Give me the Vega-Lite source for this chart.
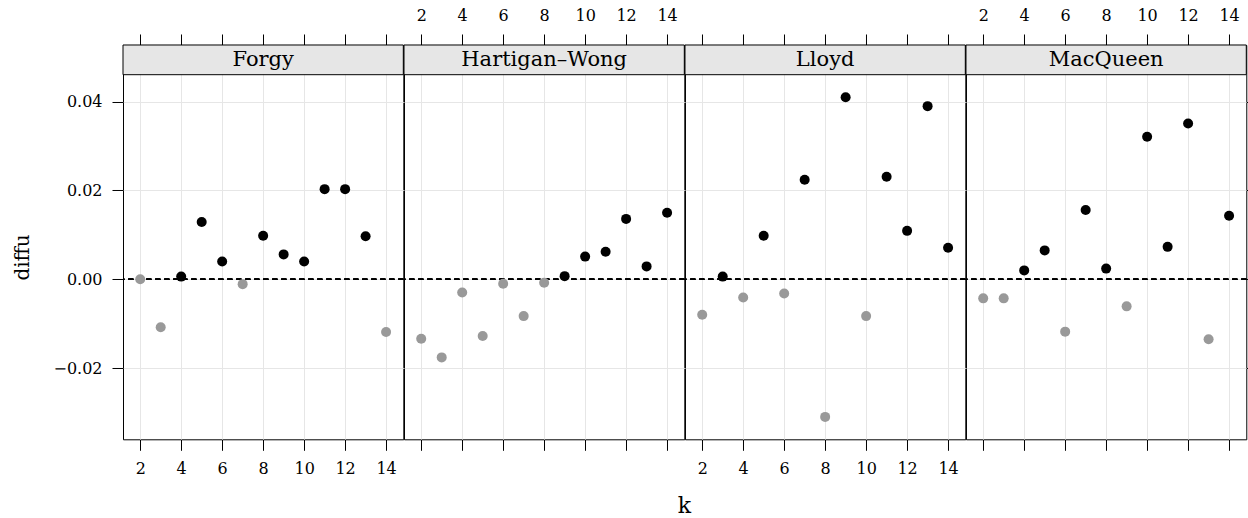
{
  "$schema": "https://vega.github.io/schema/vega-lite/v6.json",
  "padding": {"left": 12, "top": 7, "right": 0, "bottom": 4},
  "datasets": {
    "diffs": [
      {"method": "Forgy", "k": 2, "diffu": 0.0},
      {"method": "Forgy", "k": 3, "diffu": -0.0108},
      {"method": "Forgy", "k": 4, "diffu": 0.0006},
      {"method": "Forgy", "k": 5, "diffu": 0.0129},
      {"method": "Forgy", "k": 6, "diffu": 0.004},
      {"method": "Forgy", "k": 7, "diffu": -0.0011},
      {"method": "Forgy", "k": 8, "diffu": 0.0098},
      {"method": "Forgy", "k": 9, "diffu": 0.0056},
      {"method": "Forgy", "k": 10, "diffu": 0.004},
      {"method": "Forgy", "k": 11, "diffu": 0.0203},
      {"method": "Forgy", "k": 12, "diffu": 0.0203},
      {"method": "Forgy", "k": 13, "diffu": 0.0097},
      {"method": "Forgy", "k": 14, "diffu": -0.0119},
      {"method": "Hartigan–Wong", "k": 2, "diffu": -0.0134},
      {"method": "Hartigan–Wong", "k": 3, "diffu": -0.0176},
      {"method": "Hartigan–Wong", "k": 4, "diffu": -0.003},
      {"method": "Hartigan–Wong", "k": 5, "diffu": -0.0128},
      {"method": "Hartigan–Wong", "k": 6, "diffu": -0.001},
      {"method": "Hartigan–Wong", "k": 7, "diffu": -0.0083},
      {"method": "Hartigan–Wong", "k": 8, "diffu": -0.0008},
      {"method": "Hartigan–Wong", "k": 9, "diffu": 0.0007},
      {"method": "Hartigan–Wong", "k": 10, "diffu": 0.0051},
      {"method": "Hartigan–Wong", "k": 11, "diffu": 0.0062},
      {"method": "Hartigan–Wong", "k": 12, "diffu": 0.0136},
      {"method": "Hartigan–Wong", "k": 13, "diffu": 0.0029},
      {"method": "Hartigan–Wong", "k": 14, "diffu": 0.015},
      {"method": "Lloyd", "k": 2, "diffu": -0.008},
      {"method": "Lloyd", "k": 3, "diffu": 0.0006},
      {"method": "Lloyd", "k": 4, "diffu": -0.0041},
      {"method": "Lloyd", "k": 5, "diffu": 0.0098},
      {"method": "Lloyd", "k": 6, "diffu": -0.0032},
      {"method": "Lloyd", "k": 7, "diffu": 0.0224},
      {"method": "Lloyd", "k": 8, "diffu": -0.031},
      {"method": "Lloyd", "k": 9, "diffu": 0.041},
      {"method": "Lloyd", "k": 10, "diffu": -0.0083},
      {"method": "Lloyd", "k": 11, "diffu": 0.0231},
      {"method": "Lloyd", "k": 12, "diffu": 0.0109},
      {"method": "Lloyd", "k": 13, "diffu": 0.039},
      {"method": "Lloyd", "k": 14, "diffu": 0.0071},
      {"method": "MacQueen", "k": 2, "diffu": -0.0043},
      {"method": "MacQueen", "k": 3, "diffu": -0.0043},
      {"method": "MacQueen", "k": 4, "diffu": 0.002},
      {"method": "MacQueen", "k": 5, "diffu": 0.0065},
      {"method": "MacQueen", "k": 6, "diffu": -0.0118},
      {"method": "MacQueen", "k": 7, "diffu": 0.0156},
      {"method": "MacQueen", "k": 8, "diffu": 0.0024},
      {"method": "MacQueen", "k": 9, "diffu": -0.0061},
      {"method": "MacQueen", "k": 10, "diffu": 0.0321},
      {"method": "MacQueen", "k": 11, "diffu": 0.0073},
      {"method": "MacQueen", "k": 12, "diffu": 0.0351},
      {"method": "MacQueen", "k": 13, "diffu": -0.0135},
      {"method": "MacQueen", "k": 14, "diffu": 0.0143}
    ]
  },
  "title": {"text": "k", "orient": "bottom", "anchor": "middle", "frame": "bounds", "dx": 49, "offset": 19, "fontSize": 22, "fontWeight": "normal", "font": "DejaVu Serif", "color": "black"},
  "spacing": 0,
  "bounds": "flush",
  "hconcat": [
    {
      "width": 280.3, "height": 394.3,
      "view": {"fill": "white", "stroke": "black"},
      "resolve": {"axis": {"x": "independent", "y": "independent"}},
      "layer": [
        {
          "data": {"name": "diffs"},
          "transform": [{"filter": "datum.method === 'Forgy'"}],
          "mark": {"type": "rule", "strokeDash": [5, 4], "color": "black", "strokeWidth": 1},
          "encoding": {"y": {"datum": 0, "type": "quantitative", "axis": null}}
        },
        {
          "data": {"name": "diffs"},
          "transform": [{"filter": "datum.method === 'Forgy'"}],
          "mark": {"type": "point", "filled": true, "size": 100, "opacity": 1},
          "encoding": {
            "x": {"field": "k", "type": "quantitative", "scale": {"domain": [1.16, 14.84], "nice": false, "zero": false},
                  "axis": {"orient": "bottom", "values": [2, 4, 6, 8, 10, 12, 14], "format": "d", "grid": true, "title": null}},
            "y": {"field": "diffu", "type": "quantitative", "scale": {"domain": [-0.03605, 0.05277], "nice": false, "zero": false},
                  "axis": {"orient": "left", "values": [-0.02, 0, 0.02, 0.04], "format": ".2f", "title": "diffu", "titlePadding": 20, "titleY": 212, "grid": true}},
            "color": {"condition": {"test": "datum.diffu > 0", "value": "black"}, "value": "#999999"}
          }
        },
        {
          "data": {"values": [{"method": "Forgy"}]},
          "mark": {"type": "rect", "fill": "#e6e6e6", "stroke": "black", "strokeWidth": 1},
          "encoding": {
            "x": {"datum": 1.16, "type": "quantitative", "axis": null}, "x2": {"datum": 14.84},
            "y": {"datum": 0.04608, "type": "quantitative", "axis": null}, "y2": {"datum": 0.05277}
          }
        },
        {
          "data": {"values": [{"method": "Forgy"}]},
          "mark": {"type": "text", "fontSize": 21, "baseline": "middle", "color": "black"},
          "encoding": {
            "x": {"datum": 8, "type": "quantitative", "axis": {"orient": "top", "values": [2, 4, 6, 8, 10, 12, 14], "labels": false, "grid": false, "title": null}},
            "y": {"datum": 0.04943, "type": "quantitative", "axis": null},
            "text": {"field": "method"}
          }
        }
      ]
    },
    {
      "width": 280.3, "height": 394.3,
      "view": {"fill": "white", "stroke": "black"},
      "resolve": {"axis": {"x": "independent", "y": "independent"}},
      "layer": [
        {
          "data": {"name": "diffs"},
          "transform": [{"filter": "datum.method === 'Hartigan–Wong'"}],
          "mark": {"type": "rule", "strokeDash": [5, 4], "color": "black", "strokeWidth": 1},
          "encoding": {"y": {"datum": 0, "type": "quantitative", "axis": null}}
        },
        {
          "data": {"name": "diffs"},
          "transform": [{"filter": "datum.method === 'Hartigan–Wong'"}],
          "mark": {"type": "point", "filled": true, "size": 100, "opacity": 1},
          "encoding": {
            "x": {"field": "k", "type": "quantitative", "scale": {"domain": [1.16, 14.84], "nice": false, "zero": false},
                  "axis": {"orient": "bottom", "values": [2, 4, 6, 8, 10, 12, 14], "labels": false, "grid": true, "title": null}},
            "y": {"field": "diffu", "type": "quantitative", "scale": {"domain": [-0.03605, 0.05277], "nice": false, "zero": false},
                  "axis": {"values": [-0.02, 0, 0.02, 0.04], "labels": false, "ticks": false, "title": null, "grid": true}},
            "color": {"condition": {"test": "datum.diffu > 0", "value": "black"}, "value": "#999999"}
          }
        },
        {
          "data": {"values": [{"method": "Hartigan–Wong"}]},
          "mark": {"type": "rect", "fill": "#e6e6e6", "stroke": "black", "strokeWidth": 1},
          "encoding": {
            "x": {"datum": 1.16, "type": "quantitative", "axis": null}, "x2": {"datum": 14.84},
            "y": {"datum": 0.04608, "type": "quantitative", "axis": null}, "y2": {"datum": 0.05277}
          }
        },
        {
          "data": {"values": [{"method": "Hartigan–Wong"}]},
          "mark": {"type": "text", "fontSize": 21, "baseline": "middle", "color": "black"},
          "encoding": {
            "x": {"datum": 8, "type": "quantitative", "axis": {"orient": "top", "values": [2, 4, 6, 8, 10, 12, 14], "format": "d", "grid": false, "title": null}},
            "y": {"datum": 0.04943, "type": "quantitative", "axis": null},
            "text": {"field": "method"}
          }
        }
      ]
    },
    {
      "width": 280.3, "height": 394.3,
      "view": {"fill": "white", "stroke": "black"},
      "resolve": {"axis": {"x": "independent", "y": "independent"}},
      "layer": [
        {
          "data": {"name": "diffs"},
          "transform": [{"filter": "datum.method === 'Lloyd'"}],
          "mark": {"type": "rule", "strokeDash": [5, 4], "color": "black", "strokeWidth": 1},
          "encoding": {"y": {"datum": 0, "type": "quantitative", "axis": null}}
        },
        {
          "data": {"name": "diffs"},
          "transform": [{"filter": "datum.method === 'Lloyd'"}],
          "mark": {"type": "point", "filled": true, "size": 100, "opacity": 1},
          "encoding": {
            "x": {"field": "k", "type": "quantitative", "scale": {"domain": [1.16, 14.84], "nice": false, "zero": false},
                  "axis": {"orient": "bottom", "values": [2, 4, 6, 8, 10, 12, 14], "format": "d", "grid": true, "title": null}},
            "y": {"field": "diffu", "type": "quantitative", "scale": {"domain": [-0.03605, 0.05277], "nice": false, "zero": false},
                  "axis": {"values": [-0.02, 0, 0.02, 0.04], "labels": false, "ticks": false, "title": null, "grid": true}},
            "color": {"condition": {"test": "datum.diffu > 0", "value": "black"}, "value": "#999999"}
          }
        },
        {
          "data": {"values": [{"method": "Lloyd"}]},
          "mark": {"type": "rect", "fill": "#e6e6e6", "stroke": "black", "strokeWidth": 1},
          "encoding": {
            "x": {"datum": 1.16, "type": "quantitative", "axis": null}, "x2": {"datum": 14.84},
            "y": {"datum": 0.04608, "type": "quantitative", "axis": null}, "y2": {"datum": 0.05277}
          }
        },
        {
          "data": {"values": [{"method": "Lloyd"}]},
          "mark": {"type": "text", "fontSize": 21, "baseline": "middle", "color": "black"},
          "encoding": {
            "x": {"datum": 8, "type": "quantitative", "axis": {"orient": "top", "values": [2, 4, 6, 8, 10, 12, 14], "labels": false, "grid": false, "title": null}},
            "y": {"datum": 0.04943, "type": "quantitative", "axis": null},
            "text": {"field": "method"}
          }
        }
      ]
    },
    {
      "width": 280.3, "height": 394.3,
      "view": {"fill": "white", "stroke": "black"},
      "resolve": {"axis": {"x": "independent", "y": "independent"}},
      "layer": [
        {
          "data": {"name": "diffs"},
          "transform": [{"filter": "datum.method === 'MacQueen'"}],
          "mark": {"type": "rule", "strokeDash": [5, 4], "color": "black", "strokeWidth": 1},
          "encoding": {"y": {"datum": 0, "type": "quantitative", "axis": null}}
        },
        {
          "data": {"name": "diffs"},
          "transform": [{"filter": "datum.method === 'MacQueen'"}],
          "mark": {"type": "point", "filled": true, "size": 100, "opacity": 1},
          "encoding": {
            "x": {"field": "k", "type": "quantitative", "scale": {"domain": [1.16, 14.84], "nice": false, "zero": false},
                  "axis": {"orient": "bottom", "values": [2, 4, 6, 8, 10, 12, 14], "labels": false, "grid": true, "title": null}},
            "y": {"field": "diffu", "type": "quantitative", "scale": {"domain": [-0.03605, 0.05277], "nice": false, "zero": false},
                  "axis": {"orient": "right", "values": [-0.02, 0, 0.02, 0.04], "labels": false, "title": null, "grid": true}},
            "color": {"condition": {"test": "datum.diffu > 0", "value": "black"}, "value": "#999999"}
          }
        },
        {
          "data": {"values": [{"method": "MacQueen"}]},
          "mark": {"type": "rect", "fill": "#e6e6e6", "stroke": "black", "strokeWidth": 1},
          "encoding": {
            "x": {"datum": 1.16, "type": "quantitative", "axis": null}, "x2": {"datum": 14.84},
            "y": {"datum": 0.04608, "type": "quantitative", "axis": null}, "y2": {"datum": 0.05277}
          }
        },
        {
          "data": {"values": [{"method": "MacQueen"}]},
          "mark": {"type": "text", "fontSize": 21, "baseline": "middle", "color": "black"},
          "encoding": {
            "x": {"datum": 8, "type": "quantitative", "axis": {"orient": "top", "values": [2, 4, 6, 8, 10, 12, 14], "format": "d", "grid": false, "title": null}},
            "y": {"datum": 0.04943, "type": "quantitative", "axis": null},
            "text": {"field": "method"}
          }
        }
      ]
    }
  ],
  "config": {
    "font": "DejaVu Serif",
    "view": {"stroke": "black", "strokeWidth": 1},
    "concat": {"spacing": 0},
    "axis": {
      "labelFont": "DejaVu Serif", "labelFontSize": 16, "labelColor": "black",
      "tickColor": "black", "tickSize": 11, "tickWidth": 1, "domain": false,
      "gridColor": "#e6e6e6", "gridWidth": 1, "labelPadding": 10,
      "titleFont": "DejaVu Serif", "titleFontSize": 20, "titleFontWeight": "normal", "titleColor": "black"
    }
  }
}
